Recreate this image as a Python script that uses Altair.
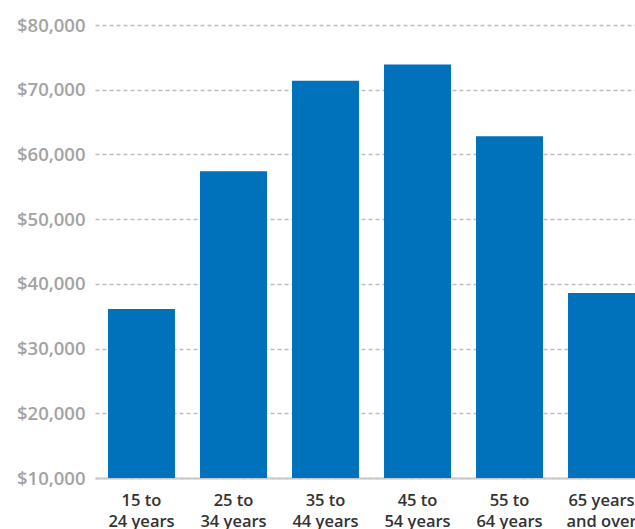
import altair as alt
import pandas as pd

categories = ["15 to\n24 years", "25 to\n34 years", "35 to\n44 years",
              "45 to\n54 years", "55 to\n64 years", "65 years\nand over"]
values = [36100, 57400, 71400, 73900, 62800, 38600]
y_ticks = [10000, 20000, 30000, 40000, 50000, 60000, 70000, 80000]

df = pd.DataFrame({"age": categories, "income": values})

chart = alt.Chart(df).mark_bar(color="#0071bb", clip=True).encode(
    x=alt.X("age:N", sort=categories, title=None,
            scale=alt.Scale(paddingInner=0.272, paddingOuter=0.0707, align=1),
            axis=alt.Axis(labelExpr="split(datum.label, '\\n')", labelAngle=0,
                          labelFont="Open Sans", labelFontSize=16.5, labelFontWeight=600,
                          labelColor="#333333", labelPadding=14, labelLineHeight=21,
                          labelBaseline="top",
                          ticks=False, domainColor="#c8c8c8", domainWidth=2)),
    y=alt.Y("income:Q", title=None,
            scale=alt.Scale(domain=[10000, 80000], zero=False, nice=False),
            axis=alt.Axis(values=y_ticks, format="$,.0f", labelFont="Open Sans",
                          labelFontSize=18.5, labelFontWeight=600, labelColor="#a3a3a3",
                          labelPadding=10, ticks=False, domain=False,
                          gridColor="#bdbdbd", gridDash=[4, 3], gridWidth=1.3)),
).properties(
    width=540, height=453,
    autosize=alt.AutoSizeParams(type="none"),
    padding={"left": 95, "top": 25, "right": 0, "bottom": 51},
).configure_view(stroke=None)

chart.save("out.html", embed_options={"renderer": "svg", "actions": False})
